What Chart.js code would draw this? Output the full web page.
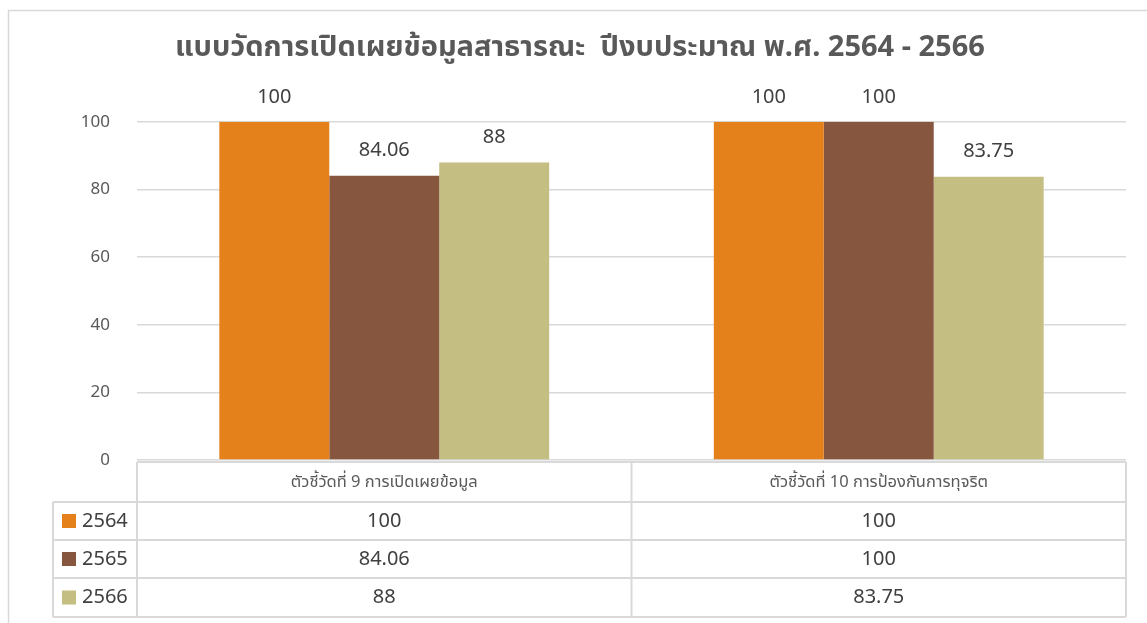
<!DOCTYPE html>
<html>
<head>
<meta charset="utf-8">
<script src="https://cdn.jsdelivr.net/npm/chart.js@4/dist/chart.umd.min.js"></script>
<style>
  html, body { margin: 0; padding: 0; background: #fff; }
  #wrap { width: 1147px; height: 623px; position: relative; }
</style>
</head>
<body>
<div id="wrap"><canvas id="scoreChart" width="1147" height="623"></canvas></div>
<script>
// data
const categories = ["ตัวชี้วัดที่ 9 การเปิดเผยข้อมูล", "ตัวชี้วัดที่ 10 การป้องกันการทุจริต"];
const years = ["2564", "2565", "2566"];
const scores2564 = [100, 100];
const scores2565 = [84.06, 100];
const scores2566 = [88, 83.75];
const yTicks = [0, 20, 40, 60, 80, 100];
const colors = ["#E5811A", "#87563F", "#C4BE82"];

const FONT = "'Noto Sans', 'Noto Sans Thai', 'DejaVu Sans', sans-serif";
const gridColor = "#D9D9D9";

// value labels above each bar
const barLabels = {
    id: 'barLabels',
    afterDatasetsDraw(chart) {
        const ctx = chart.ctx;
        ctx.save();
        ctx.font = "20px " + FONT;
        ctx.fillStyle = "#404040";
        ctx.textAlign = "center";
        ctx.textBaseline = "middle";
        chart.data.datasets.forEach((ds, i) => {
            chart.getDatasetMeta(i).data.forEach((bar, j) => {
                ctx.fillText(String(ds.data[j]), bar.x, bar.y - 25);
            });
        });
        ctx.restore();
    }
};

// outer frame + data table under the plot
const dataTable = {
    id: 'dataTable',
    beforeDraw(chart) {
        const ctx = chart.ctx;
        ctx.save();
        ctx.strokeStyle = gridColor;
        ctx.lineWidth = 1.5;
        ctx.strokeRect(8.5, 10.5, 1200, 700);
        ctx.restore();
    },
    afterDraw(chart) {
        const ctx = chart.ctx;
        const area = chart.chartArea;
        const xs = chart.scales.x;
        const half = (xs.getPixelForValue(1) - xs.getPixelForValue(0)) / 2;
        const left = area.left, right = area.right;
        const mid = xs.getPixelForValue(0) + half;
        const legendLeft = 53;
        const rowTops = [area.bottom + 2, 502, 540, 578, 617];

        ctx.save();
        ctx.strokeStyle = gridColor;
        ctx.lineWidth = 2;
        ctx.beginPath();
        // horizontal lines
        ctx.moveTo(left, rowTops[0]); ctx.lineTo(right, rowTops[0]);
        for (let r = 1; r < rowTops.length; r++) {
            ctx.moveTo(legendLeft, rowTops[r]); ctx.lineTo(right, rowTops[r]);
        }
        // vertical lines
        ctx.moveTo(left, rowTops[0]); ctx.lineTo(left, rowTops[4]);
        ctx.moveTo(mid, rowTops[0]); ctx.lineTo(mid, rowTops[4]);
        ctx.moveTo(right, rowTops[0]); ctx.lineTo(right, rowTops[4]);
        ctx.moveTo(legendLeft, rowTops[1]); ctx.lineTo(legendLeft, rowTops[4]);
        ctx.stroke();

        ctx.textAlign = "center";
        ctx.textBaseline = "middle";
        ctx.fillStyle = "#595959";
        ctx.font = "16.5px " + FONT;
        categories.forEach((c, j) => {
            ctx.fillText(c, xs.getPixelForValue(j), (rowTops[0] + rowTops[1]) / 2);
        });

        chart.data.datasets.forEach((ds, i) => {
            const cy = (rowTops[i + 1] + rowTops[i + 2]) / 2;
            ctx.fillStyle = ds.backgroundColor;
            ctx.fillRect(62, cy - 7, 14, 14);
            ctx.fillStyle = "#404040";
            ctx.font = "20px " + FONT;
            ctx.textAlign = "left";
            ctx.fillText(ds.label, 82, cy);
            ctx.textAlign = "center";
            ds.data.forEach((v, j) => {
                ctx.fillText(String(v), xs.getPixelForValue(j), cy);
            });
        });
        ctx.restore();
    }
};

const ctx = document.getElementById('scoreChart').getContext('2d');
const scoreChart = new Chart(ctx, {
    type: 'bar',
    data: {
        labels: categories,
        datasets: [
            { label: years[0], data: scores2564, backgroundColor: colors[0] },
            { label: years[1], data: scores2565, backgroundColor: colors[1] },
            { label: years[2], data: scores2566, backgroundColor: colors[2] }
        ]
    },
    options: {
        responsive: false,
        animation: false,
        layout: { padding: { left: 34, right: 21, bottom: 163, top: 0 } },
        datasets: {
            bar: { categoryPercentage: 0.667, barPercentage: 1.0 }
        },
        plugins: {
            legend: { display: false },
            tooltip: { enabled: false },
            title: {
                display: true,
                text: 'แบบวัดการเปิดเผยข้อมูลสาธารณะ  ปีงบประมาณ พ.ศ. 2564 - 2566',
                color: '#595959',
                font: { family: FONT, size: 29, weight: 'bold', lineHeight: 1.2 },
                padding: { top: 30, bottom: 57 }
            }
        },
        scales: {
            x: { display: false },
            y: {
                min: 0,
                max: 100,
                afterBuildTicks(scale) {
                    scale.ticks = yTicks.map(v => ({ value: v }));
                },
                afterFit(scale) { scale.width = 103; },
                border: { display: false },
                grid: { color: gridColor, lineWidth: 1.5, drawTicks: false },
                ticks: { color: '#595959', padding: 27, font: { family: FONT, size: 17 } }
            }
        }
    },
    plugins: [barLabels, dataTable]
});
</script>
</body>
</html>
